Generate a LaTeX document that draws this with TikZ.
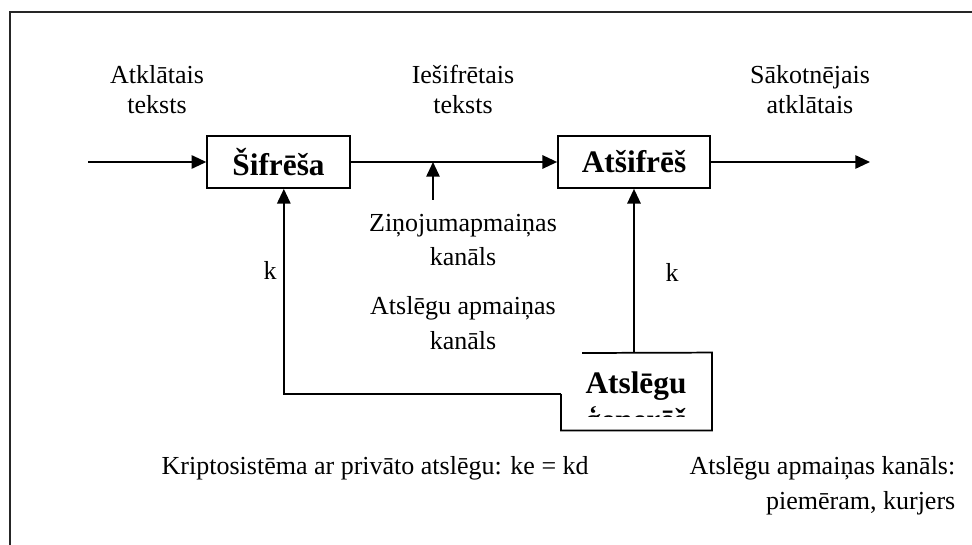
\documentclass[tikz,border=0pt]{standalone}
\usepackage{fontspec}
\setmainfont{Liberation Serif}
\usetikzlibrary{arrows.meta}

\begin{document}
\begin{tikzpicture}[
    x=0.75pt, y=-0.75pt,
    lbltext/.style={align=center, font=\fontsize{19.5}{22.5}\selectfont},
    chantext/.style={align=center, font=\fontsize{19.5}{26}\selectfont},
    boxnode/.style={draw, line width=1.3pt, font=\fontsize{23.5}{28}\selectfont\bfseries, minimum height=39pt, inner sep=0pt},
    blkarr/.style={-{Triangle[length=11pt,width=10pt]}, line width=1.3pt}
]
    \useasboundingbox (0,0) rectangle (972,545);

    % --- frame ---
    \draw[line width=1.5pt, black!85] (10,545) -- (10,12) -- (972,12);

    % --- boxes ---
    \node[boxnode, minimum width=107pt] (sif) at (278.5,162) {Šifrēša};
    \node[boxnode, minimum width=114pt] (ats) at (634,162) {Atšifrēš};
    \node[minimum width=113pt, minimum height=58pt, inner sep=0pt] (key) at (636.5,391.5) {};
    \node[font=\fontsize{23.5}{28}\selectfont\bfseries, anchor=base] (keytxt) at (636,394) {Atslēgu};
    \begin{scope}
        \clip (563,405) rectangle (710,417);
        \node[font=\fontsize{23.5}{28}\selectfont\bfseries, anchor=base] (keytail) at (636,431) {ģenerēš};
    \end{scope}
    \coordinate (keyout) at (561,394);
    \draw[line width=1.3pt] (582,353) -- (key.north east) -- (key.south east) -- (key.south west) -- (keyout);

    % --- labels ---
    \node[lbltext] (plain) at (157,90) {Atklātais\\teksts};
    \node[lbltext] (cipher) at (463,89) {Iešifrētais\\teksts};
    \node[lbltext] (orig) at (810,90) {Sākotnējais\\atklātais};
    \node[chantext] (msgch) at (463,240) {Ziņojumapmaiņas\\kanāls};
    \node[chantext] (keych) at (463,323) {Atslēgu apmaiņas\\kanāls};
    \node[font=\fontsize{19.5}{22.5}\selectfont] (ke) at (270,270) {k};
    \node[font=\fontsize{19.5}{22.5}\selectfont] (kd) at (672,272) {k};
    \node[font=\fontsize{19.5}{22.5}\selectfont, anchor=west] (note) at (157,468) {Kriptosistēma ar privāto atslēgu: ke = kd};
    \node[align=right, anchor=east, font=\fontsize{19.5}{26}\selectfont] (courier) at (960,486) {Atslēgu apmaiņas kanāls:\\piemēram, kurjers};

    % --- arrows ---
    \coordinate (src) at (88,162);
    \coordinate (dst) at (870,162);
    \coordinate (chanbot) at (433,200);
    \draw[blkarr] (src) -- (sif.west);
    \draw[blkarr] (sif.east) -- (ats.west);
    \draw[blkarr] (ats.east) -- (dst);
    \draw[blkarr] (chanbot) -- (chanbot |- sif.east);
    \draw[blkarr] (key.north -| ats.south) -- (ats.south);
    \draw[blkarr] (keyout) -| ([xshift=4pt]sif.south);
\end{tikzpicture}
\end{document}
